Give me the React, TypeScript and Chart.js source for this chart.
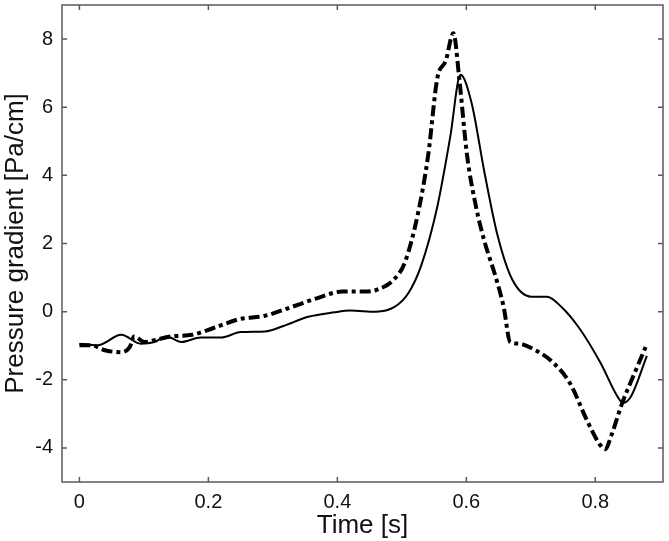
import React, { useEffect, useRef } from "react";
import { Chart, registerables } from "chart.js";

Chart.register(...registerables);

// Solid curve (time [s], pressure gradient [Pa/cm])
const SOLID_T = [0.0, 0.028, 0.065, 0.095, 0.115, 0.135, 0.158, 0.188, 0.22, 0.25, 0.288, 0.315, 0.355, 0.395, 0.42, 0.46, 0.488, 0.51, 0.53, 0.555, 0.575, 0.591, 0.608, 0.628, 0.648, 0.671, 0.701, 0.725, 0.748, 0.775, 0.808, 0.835, 0.843, 0.855, 0.88];
const SOLID_P = [-0.94, -0.99, -0.68, -0.94, -0.9, -0.73, -0.89, -0.76, -0.76, -0.6, -0.58, -0.43, -0.15, -0.02, 0.03, 0.0, 0.13, 0.54, 1.35, 3.08, 5.12, 6.95, 6.14, 4.1, 2.27, 0.95, 0.44, 0.44, 0.13, -0.48, -1.5, -2.51, -2.68, -2.5, -1.3];

// Dash-dot curve
const DASH_T = [0.0, 0.018, 0.041, 0.065, 0.078, 0.085, 0.101, 0.118, 0.141, 0.175, 0.208, 0.248, 0.288, 0.328, 0.368, 0.408, 0.441, 0.461, 0.488, 0.505, 0.525, 0.541, 0.555, 0.568, 0.58, 0.589, 0.601, 0.615, 0.628, 0.645, 0.658, 0.668, 0.681, 0.708, 0.735, 0.761, 0.788, 0.805, 0.815, 0.825, 0.841, 0.861, 0.878];
const DASH_P = [-0.99, -0.99, -1.14, -1.19, -1.04, -0.73, -0.89, -0.83, -0.73, -0.68, -0.48, -0.22, -0.12, 0.13, 0.39, 0.59, 0.59, 0.64, 0.95, 1.46, 2.88, 4.61, 6.85, 7.36, 8.17, 6.85, 4.61, 3.08, 2.07, 1.05, 0.13, -0.89, -0.94, -1.14, -1.5, -2.11, -3.23, -3.84, -4.04, -3.63, -2.72, -1.8, -1.04];

const X_TICKS = [0, 0.2, 0.4, 0.6, 0.8];
const Y_TICKS = [-4, -2, 0, 2, 4, 6, 8];
const X_TITLE = "Time [s]";
const Y_TITLE = "Pressure gradient [Pa/cm]";

const FONT = "'Liberation Sans', Arial, Helvetica, sans-serif";

const framePlugin = {
  id: "frameTicks",
  afterDatasetsDraw(chart: any) {
    const { ctx, chartArea } = chart;
    const { left, right, top, bottom } = chartArea;
    const xs = chart.scales.x;
    const ys = chart.scales.y;
    const len = 5;
    ctx.save();
    ctx.strokeStyle = "#5a5a5a";
    ctx.lineWidth = 1.5;
    ctx.beginPath();
    for (const v of X_TICKS) {
      const px = xs.getPixelForValue(v);
      ctx.moveTo(px, bottom);
      ctx.lineTo(px, bottom - len);
      ctx.moveTo(px, top);
      ctx.lineTo(px, top + len);
    }
    for (const v of Y_TICKS) {
      const py = ys.getPixelForValue(v);
      ctx.moveTo(left, py);
      ctx.lineTo(left + len, py);
      ctx.moveTo(right, py);
      ctx.lineTo(right - len, py);
    }
    ctx.stroke();
    ctx.strokeRect(left, top, right - left, bottom - top);
    ctx.restore();
  },
};

export default function App() {
  const ref = useRef<HTMLCanvasElement | null>(null);

  useEffect(() => {
    if (!ref.current) return;
    const chart = new Chart(ref.current, {
      type: "line",
      data: {
        datasets: [
          {
            label: "solid",
            data: SOLID_T.map((t, i) => ({ x: t, y: SOLID_P[i] })),
            borderColor: "#000",
            borderWidth: 2,
            pointRadius: 0,
            cubicInterpolationMode: "monotone",
            fill: false,
          },
          {
            label: "dashdot",
            data: DASH_T.map((t, i) => ({ x: t, y: DASH_P[i] })),
            borderColor: "#000",
            borderWidth: 4,
            borderDash: [11, 4, 4, 4],
            pointRadius: 0,
            cubicInterpolationMode: "monotone",
            fill: false,
          },
        ],
      },
      options: {
        animation: false,
        responsive: false,
        maintainAspectRatio: false,
        layout: { padding: { top: 5, right: 6, left: 0, bottom: 0 } },
        plugins: { legend: { display: false }, tooltip: { enabled: false } },
        scales: {
          x: {
            type: "linear",
            min: -0.027,
            max: 0.905,
            afterBuildTicks: (s: any) => {
              s.ticks = X_TICKS.map((v) => ({ value: v }));
            },
            afterFit: (s: any) => {
              s.height = 59;
              s.paddingLeft = 0;
              s.paddingRight = 0;
            },
            grid: { display: false, drawTicks: false },
            border: { display: false },
            ticks: {
              padding: 8,
              color: "#111",
              font: { family: FONT, size: 20 },
              maxRotation: 0,
              callback: (v: any) => String(v),
            },
            title: {
              display: true,
              text: X_TITLE,
              color: "#111",
              font: { family: FONT, size: 26 },
              padding: { top: 0, bottom: 0 },
            },
          },
          y: {
            type: "linear",
            min: -5,
            max: 9,
            afterBuildTicks: (s: any) => {
              s.ticks = Y_TICKS.map((v) => ({ value: v }));
            },
            afterFit: (s: any) => {
              s.width = 62;
              s.paddingTop = 0;
              s.paddingBottom = 0;
            },
            grid: { display: false, drawTicks: false },
            border: { display: false },
            ticks: {
              padding: 9,
              color: "#111",
              font: { family: FONT, size: 20 },
              callback: (v: any) => String(v),
            },
            title: {
              display: true,
              text: Y_TITLE,
              color: "#111",
              font: { family: FONT, size: 26 },
              padding: { top: 0, bottom: 0 },
            },
          },
        },
      },
      plugins: [framePlugin],
    });
    return () => chart.destroy();
  }, []);

  return (
    <div style={{ position: "fixed", left: 0, top: 0, width: 669, height: 541, background: "#fff" }}>
      <canvas ref={ref} width={669} height={541} style={{ width: 669, height: 541, display: "block" }} />
    </div>
  );
}
